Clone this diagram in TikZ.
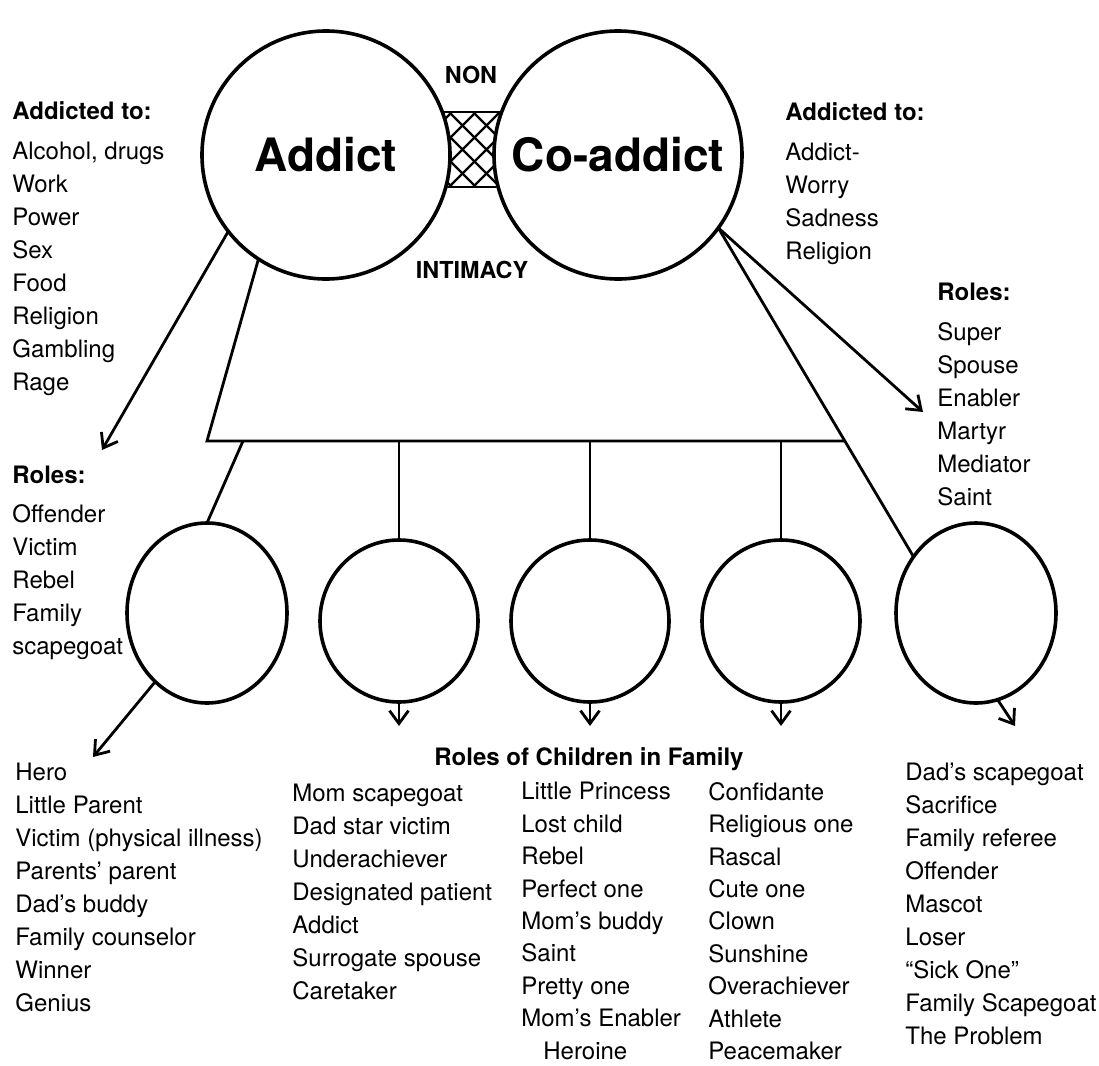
\documentclass[tikz,border=0pt]{standalone}
\usepackage{fontspec}
\setmainfont{TeX Gyre Heros}
\usetikzlibrary{arrows.meta,shapes.geometric}
\tikzset{
  bigcircle/.style={circle,draw,line width=1.8pt,fill=white,minimum size=124pt,inner sep=0pt,outer sep=0pt,font=\fontsize{23}{27}\selectfont\bfseries},
  child/.style={ellipse,draw,line width=1.8pt,fill=white,inner sep=0pt,outer sep=0pt,minimum width=79pt,minimum height=81pt},
  tallchild/.style={child,minimum width=80pt,minimum height=90pt},
  list/.style={align=left,anchor=north west,inner sep=0pt,font=\fontsize{12}{16.5}\selectfont},
  longlist/.style={list,font=\fontsize{12}{16.2}\selectfont},
  head/.style={inner sep=0pt,font=\fontsize{11.7}{14}\selectfont\bfseries},
  link/.style={line width=1.4pt},
  pointer/.style={link,-{Straight Barb[length=6.5pt,width=9.5pt]}},
}
\begin{document}
\begin{tikzpicture}[x=0.5pt,y=-0.5pt]
\useasboundingbox (0,0) rectangle (1099,1066);
% cross-hatched band between the partners
\begin{scope}
  \clip (440,112) rectangle (505,187);
  \foreach \s in {353,377,...,521}
    \draw[line width=1.2pt] (\s,112) -- ++(75,75) (\s,187) -- ++(75,-75);
\end{scope}
\draw[link] (440,112) rectangle (505,187);
\node[bigcircle] (addict) at (326,155) {Addict};
\node[bigcircle] (coaddict) at (618,155) {Co-addict};
\node[head] (non) at (471,75) {NON};
\node[head] (intimacy) at (472,270) {INTIMACY};
% side lists
\node[list] (addictto) at (12,101) {\textbf{Addicted to:}\\[3.5pt]Alcohol, drugs\\Work\\Power\\Sex\\Food\\Religion\\Gambling\\Rage};
\node[list] (addictroles) at (12,466) {\textbf{Roles:}\\[3pt]Offender\\Victim\\Rebel\\Family\\scapegoat};
\node[list] (coaddictto) at (785,102) {\textbf{Addicted to:}\\[3.5pt]Addict-\\Worry\\Sadness\\Religion};
\node[list] (coaddictroles) at (937,283) {\textbf{Roles:}\\[3.5pt]Super\\Spouse\\Enabler\\Martyr\\Mediator\\Saint};
% children
\node[tallchild] (child1) at (207,613) {};
\node[child] (child2) at (399,621) {};
\node[child] (child3) at (590,621) {};
\node[child] (child4) at (781,621) {};
\node[tallchild] (child5) at (976,613) {};
\node[head,font=\fontsize{12}{14}\selectfont\bfseries,anchor=base] (childroles) at (589,765) {Roles of Children in Family};
\node[list] (col1) at (15,763) {Hero\\Little Parent\\Victim (physical illness)\\Parents’ parent\\Dad’s buddy\\Family counselor\\Winner\\Genius};
\node[list] (col2) at (292,784) {Mom scapegoat\\Dad star victim\\Underachiever\\Designated patient\\Addict\\Surrogate spouse\\Caretaker};
\node[longlist] (col3) at (521,782) {Little Princess\\Lost child\\Rebel\\Perfect one\\Mom’s buddy\\Saint\\Pretty one\\Mom’s Enabler\\\hspace*{11pt}Heroine};
\node[longlist] (col4) at (708,782) {Confidante\\Religious one\\Rascal\\Cute one\\Clown\\Sunshine\\Overachiever\\Athlete\\Peacemaker};
\node[list] (col5) at (905,763) {Dad’s scapegoat\\Sacrifice\\Family referee\\Offender\\Mascot\\Loser\\“Sick One”\\Family Scapegoat\\The Problem};
% family frame and links
\coordinate (bl) at (207,441);
\coordinate (br) at (845,441);
\coordinate (k1) at (243,441);
\draw[link] (addict.237) -- (bl) -- (br);
\draw[link] (coaddict.-36) -- (child5.138);
\draw[link] (k1) -- (child1.north);
\foreach \c in {child2,child3,child4}
  \draw[link] (\c.north |- bl) -- (\c.north);
% arrows to the roles
\coordinate (addictend) at (102,450);
\coordinate (coaddictend) at (923,412);
\coordinate (heroend) at (93,757);
\coordinate (dadend) at (1015,726);
\draw[pointer] (addict.218) -- (addictend);
\draw[pointer] (coaddict.-36) -- (coaddictend);
\draw[pointer] (child1.233) -- (heroend);
\foreach \c in {child2,child3,child4}
  \draw[pointer] (\c.south) -- ++(0,24);
\draw[pointer] (child5.-76) -- (dadend);
\end{tikzpicture}
\end{document}
